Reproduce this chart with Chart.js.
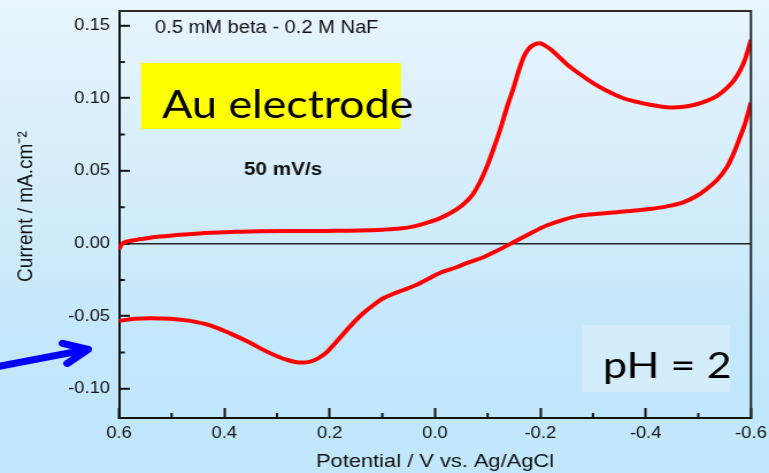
<!DOCTYPE html>
<html>
<head>
<meta charset="utf-8">
<script src="https://cdn.jsdelivr.net/npm/chart.js@4.4.1/dist/chart.umd.min.js"></script>
<style>
  html, body { margin: 0; padding: 0; }
  body {
    width: 769px; height: 473px; overflow: hidden;
    background: linear-gradient(to bottom, #e8f5fd 0%, #d4edfb 40%, #c3e7fb 72%, #c1e7fb 100%);
  }
  /* the figure is drawn on a narrower canvas and widened horizontally */
  #wrap { width: 669px; height: 473px; transform: scaleX(1.1495); transform-origin: 0 0; }
  canvas { display: block; }
</style>
</head>
<body>
<div id="wrap"><canvas id="cv" width="669" height="473"></canvas></div>
<script>
// Axis ticks (V vs. Ag/AgCl and mA/cm2)
const X_TICKS = [0.6, 0.4, 0.2, 0.0, -0.2, -0.4, -0.6];
const X_MINOR = [0.5, 0.3, 0.1, -0.1, -0.3, -0.5];
const Y_TICKS = [-0.10, -0.05, 0.00, 0.05, 0.10, 0.15];
const Y_MINOR = [-0.075, -0.025, 0.025, 0.075, 0.125];

// Forward scan, 0.6 V -> -0.6 V
const POTENTIAL_FWD = [0.600, 0.596, 0.590, 0.579, 0.550, 0.522, 0.475, 0.427, 0.380, 0.332,
  0.285, 0.237, 0.190, 0.142, 0.100, 0.066, 0.040, 0.016, -0.010, -0.041,
  -0.060, -0.073, -0.085, -0.098, -0.110, -0.123, -0.136, -0.149, -0.160, -0.168,
  -0.178, -0.190, -0.199, -0.210, -0.220, -0.231, -0.250, -0.275, -0.300, -0.326,
  -0.355, -0.389, -0.420, -0.452, -0.485, -0.516, -0.535, -0.554, -0.568, -0.579,
  -0.590, -0.600];
const CURRENT_FWD = [-0.0040, -0.0010, 0.0008, 0.0018, 0.0035, 0.0048, 0.0063, 0.0075, 0.0081, 0.0085,
  0.0086, 0.0086, 0.0088, 0.0090, 0.0095, 0.0103, 0.0118, 0.0142, 0.0175, 0.0235,
  0.0290, 0.0345, 0.0420, 0.0524, 0.0640, 0.0776, 0.0930, 0.1070, 0.1200, 0.1280,
  0.1340, 0.1372, 0.1378, 0.1360, 0.1335, 0.1300, 0.1235, 0.1166, 0.1104, 0.1052,
  0.1003, 0.0970, 0.0948, 0.0936, 0.0948, 0.0982, 0.1015, 0.1070, 0.1125, 0.1188,
  0.1280, 0.1400];

// Reverse scan, -0.6 V -> 0.6 V
const POTENTIAL_REV = [-0.600, -0.590, -0.579, -0.567, -0.554, -0.535, -0.516, -0.495, -0.471, -0.440,
  -0.408, -0.375, -0.345, -0.310, -0.275, -0.245, -0.212, -0.180, -0.149, -0.120,
  -0.092, -0.060, -0.041, -0.009, 0.015, 0.038, 0.057, 0.080, 0.099, 0.118,
  0.137, 0.156, 0.175, 0.190, 0.206, 0.222, 0.237, 0.251, 0.263, 0.280,
  0.301, 0.325, 0.351, 0.389, 0.427, 0.465, 0.503, 0.541, 0.570, 0.600];
const CURRENT_REV = [0.0970, 0.0840, 0.0730, 0.0620, 0.0524, 0.0435, 0.0376, 0.0324, 0.0284, 0.0256,
  0.0238, 0.0226, 0.0215, 0.0205, 0.0192, 0.0165, 0.0124, 0.0068, 0.0009, -0.0045,
  -0.0094, -0.0135, -0.0163, -0.0202, -0.0247, -0.0288, -0.0316, -0.0347, -0.0378, -0.0426,
  -0.0481, -0.0549, -0.0625, -0.0687, -0.0749, -0.0790, -0.0812, -0.0819, -0.0816, -0.0801,
  -0.0773, -0.0733, -0.0683, -0.0618, -0.0563, -0.0532, -0.0517, -0.0513, -0.0517, -0.0532];

const SANS = "'Liberation Sans', Arial, sans-serif";
const HUMANIST = "Lato, 'Open Sans', sans-serif";
const INK = '#111111';

const toPoints = (xs, ys) => xs.map((x, i) => ({ x: x, y: ys[i] }));

// minor ticks plus the top/right frame, placed through the scales
const frameAndMinorTicks = {
  id: 'frameAndMinorTicks',
  afterDatasetsDraw(chart) {
    const { ctx, chartArea: a, scales: { x, y } } = chart;
    ctx.save();
    ctx.strokeStyle = INK;
    ctx.lineWidth = 2;
    ctx.beginPath();
    X_MINOR.forEach(v => {
      const px = x.getPixelForValue(v);
      ctx.moveTo(px, a.bottom); ctx.lineTo(px, a.bottom - 5);
    });
    Y_MINOR.forEach(v => {
      const py = y.getPixelForValue(v);
      ctx.moveTo(a.left, py); ctx.lineTo(a.left + 5, py);
    });
    ctx.stroke();
    ctx.strokeStyle = '#2a2a2a';
    ctx.beginPath();
    ctx.moveTo(a.left, a.top); ctx.lineTo(a.right, a.top); ctx.lineTo(a.right, a.bottom);
    ctx.stroke();
    ctx.restore();
  }
};

// text labels, highlight boxes and the pointer arrow
const annotations = {
  id: 'annotations',
  beforeDatasetsDraw(chart) {
    const { ctx, chartArea: a, scales: { y } } = chart;
    ctx.save();
    ctx.textBaseline = 'alphabetic';
    ctx.textAlign = 'left';

    ctx.fillStyle = INK;
    ctx.font = `17.5px ${SANS}`;
    ctx.fillText('0.5 mM beta - 0.2 M NaF', a.left + 31.3, 33);

    ctx.fillStyle = '#ffff00';
    ctx.fillRect(a.left + 19.2, 63, 226.1, 66);
    ctx.fillStyle = '#000000';
    ctx.font = `39px ${HUMANIST}`;
    ctx.fillText('Au electrode', a.left + 37.5, 118);

    ctx.fillStyle = INK;
    ctx.font = `bold 18px ${SANS}`;
    ctx.fillText('50 mV/s', a.left + 108.8, 175);

    ctx.fillStyle = '#d3eefa';
    ctx.fillRect(a.left + 402.8, 325, 128.7, 67);
    ctx.fillStyle = '#000000';
    ctx.font = `37.5px ${HUMANIST}`;
    ctx.fillText('pH = 2', a.left + 421.1, 378);

    // arrow pointing at the reverse-scan branch
    const tipX = a.left - 27;
    const tipY = y.getPixelForValue(-0.0728);
    ctx.strokeStyle = '#0000ff';
    ctx.lineWidth = 7;
    ctx.lineCap = 'round';
    ctx.lineJoin = 'round';
    ctx.beginPath();
    ctx.moveTo(-6, tipY + 18);
    ctx.lineTo(tipX, tipY);
    ctx.moveTo(tipX - 22, tipY - 6);
    ctx.lineTo(tipX, tipY);
    ctx.lineTo(tipX - 18, tipY + 14);
    ctx.stroke();
    ctx.restore();
  }
};

Chart.defaults.font.family = SANS;
Chart.defaults.color = INK;

new Chart(document.getElementById('cv'), {
  type: 'scatter',
  data: {
    datasets: [
      {
        label: 'Forward scan',
        data: toPoints(POTENTIAL_FWD, CURRENT_FWD),
        showLine: true, borderColor: '#ff0000', backgroundColor: '#ff0000',
        borderWidth: 4, pointRadius: 0, cubicInterpolationMode: 'monotone', fill: false
      },
      {
        label: 'Reverse scan',
        data: toPoints(POTENTIAL_REV, CURRENT_REV),
        showLine: true, borderColor: '#ff0000', backgroundColor: '#ff0000',
        borderWidth: 4, pointRadius: 0, cubicInterpolationMode: 'monotone', fill: false
      }
    ]
  },
  options: {
    responsive: false,
    animation: false,
    devicePixelRatio: 1,
    layout: { padding: { left: 0, right: 15.7, top: 11, bottom: 0 } },
    plugins: { legend: { display: false }, tooltip: { enabled: false } },
    scales: {
      x: {
        type: 'linear',
        min: -0.6, max: 0.6, reverse: true,
        afterBuildTicks: s => { s.ticks = X_TICKS.map(v => ({ value: v })); },
        afterFit: s => {
          s.height = 55;
          s.paddingLeft = 0; s.paddingRight = 0; s.paddingTop = 0; s.paddingBottom = 0;
        },
        ticks: {
          autoSkip: false, maxRotation: 0, minRotation: 0, padding: 16.2,
          font: { size: 16 }, color: INK,
          callback: v => Number(v).toFixed(1)
        },
        grid: {
          display: true, drawOnChartArea: false, drawTicks: true,
          tickLength: -10, tickColor: INK, tickWidth: 2
        },
        border: { display: true, color: INK, width: 2 },
        title: {
          display: true, text: 'Potential / V vs. Ag/AgCl',
          font: { size: 19 }, color: INK, padding: { top: 0, bottom: 0 }
        }
      },
      y: {
        type: 'linear',
        min: -0.12, max: 0.16,
        afterBuildTicks: s => { s.ticks = Y_TICKS.map(v => ({ value: v })); },
        afterFit: s => {
          s.width = 103.5;
          s.paddingLeft = 0; s.paddingRight = 0; s.paddingTop = 0; s.paddingBottom = 0;
        },
        ticks: {
          padding: 17.3, font: { size: 16 }, color: INK,
          callback: v => Number(v).toFixed(2)
        },
        grid: {
          display: true, drawOnChartArea: true, drawTicks: true,
          color: c => (c.tick && Math.abs(c.tick.value) < 1e-9) ? '#222222' : 'rgba(0,0,0,0)',
          lineWidth: 1.6,
          tickLength: -9.5, tickColor: INK, tickWidth: 2
        },
        border: { display: true, color: INK, width: 2 },
        title: {
          display: true, text: '   Current / mA.cm\u207B\u00B2',
          font: { size: 19 }, color: INK, padding: { top: 11.6, bottom: 0 }
        }
      }
    }
  },
  plugins: [annotations, frameAndMinorTicks]
});
</script>
</body>
</html>
